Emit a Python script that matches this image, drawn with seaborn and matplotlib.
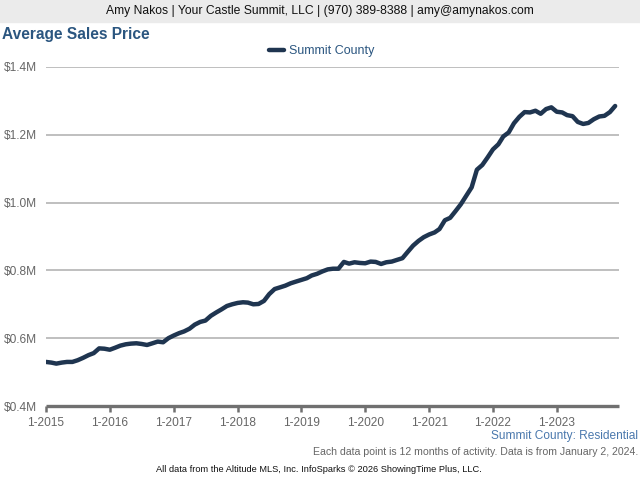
import numpy as np
import pandas as pd
import matplotlib
matplotlib.use('Agg')
import matplotlib.pyplot as plt
import seaborn as sns

# monthly rolling 12-month average sales price, Jan 2015 - Dec 2023 (in $M)
months = pd.date_range('2015-01-01', periods=108, freq='MS')
price = [
    0.530, 0.528, 0.525, 0.528, 0.530, 0.530, 0.535, 0.542, 0.550, 0.556, 0.570, 0.569,
    0.566, 0.572, 0.578, 0.582, 0.584, 0.585, 0.583, 0.580, 0.585, 0.590, 0.588, 0.600,
    0.608, 0.615, 0.620, 0.628, 0.640, 0.648, 0.652, 0.666, 0.676, 0.685, 0.695, 0.700,
    0.704, 0.706, 0.705, 0.700, 0.701, 0.710, 0.730, 0.745, 0.750, 0.755, 0.762, 0.767,
    0.772, 0.777, 0.785, 0.790, 0.797, 0.803, 0.805, 0.805, 0.825, 0.820, 0.824, 0.822,
    0.821, 0.826, 0.825, 0.819, 0.824, 0.826, 0.831, 0.836, 0.855, 0.873, 0.887, 0.898,
    0.906, 0.912, 0.922, 0.948, 0.955, 0.975, 0.995, 1.020, 1.045, 1.097, 1.111, 1.133,
    1.157, 1.172, 1.195, 1.207, 1.234, 1.253, 1.267, 1.266, 1.271, 1.262, 1.276, 1.281,
    1.268, 1.266, 1.258, 1.255, 1.238, 1.232, 1.235, 1.246, 1.254, 1.256, 1.267, 1.285,
]
yticks = [0.4, 0.6, 0.8, 1.0, 1.2, 1.4]
ytick_labels = ['$0.4M', '$0.6M', '$0.8M', '$1.0M', '$1.2M', '$1.4M']
years = list(range(2015, 2024))

df = pd.DataFrame({'Month': months, 'Summit County': price})

sns.set_style('white')
plt.rcParams['font.family'] = ['Liberation Sans', 'DejaVu Sans']

fig = plt.figure(figsize=(6.4, 4.8), dpi=100)
ax = fig.add_axes([46/640, 1-406/480, 573/640, 339/480])

sns.lineplot(data=df, x='Month', y='Summit County', ax=ax, color='#1f3550',
             linewidth=3.2, label='Summit County', legend=False, zorder=3)

ax.set_ylim(0.4, 1.4)
ax.set_xlim(pd.Timestamp('2015-01-01'), pd.Timestamp('2023-12-23'))
ax.set_yticks(yticks)
ax.set_yticklabels(ytick_labels)
ax.set_xticks([pd.Timestamp(f'{y}-01-01') for y in years])
ax.set_xticklabels([f'1-{y}' for y in years])
ax.set_xlabel('')
ax.set_ylabel('')

for y in yticks[1:]:
    ax.axhline(y, color='#b4b4b4', linewidth=1.2, zorder=1)

for s in ['top', 'right', 'left']:
    ax.spines[s].set_visible(False)
ax.spines['bottom'].set_color('#707070')
ax.spines['bottom'].set_linewidth(2.4)
ax.spines['bottom'].set_capstyle('butt')
ax.tick_params(axis='x', bottom=True, direction='out', length=4, width=1.8, color='#707070',
               labelsize=8.6, labelcolor='#666666', pad=4)
ax.tick_params(axis='y', left=False, length=0, labelsize=8.6, labelcolor='#666666', pad=6.5)

# header band
fig.patches.append(plt.Rectangle((0, 1-22/480), 1, 22/480, transform=fig.transFigure,
                                 color='#ebebeb', zorder=0))
fig.text(0.5, 1-11/480, 'Amy Nakos | Your Castle Summit, LLC | (970) 389-8388 | amy@amynakos.com',
         ha='center', va='center', fontsize=8.7, color='#111111')
fig.text(2/640, 1-35/480, 'Average Sales Price', ha='left', va='center',
         fontsize=11.2, fontweight='bold', color='#2b5680')

# legend
ax.legend(loc='lower center', bbox_to_anchor=(0.482, 0.995), frameon=False,
          fontsize=9, handlelength=1.2, handletextpad=0.4, labelcolor='#2b5680')

fig.text(638/640, 1-436/480, 'Summit County: Residential', ha='right', va='center',
         fontsize=8.6, color='#4a78ad')
fig.text(638/640, 1-452/480,
         'Each data point is 12 months of activity. Data is from January 2, 2024.',
         ha='right', va='center', fontsize=7.6, color='#666666')
fig.text(319/640, 1-469/480,
         'All data from the Altitude MLS, Inc. InfoSparks \u00a9 2026 ShowingTime Plus, LLC.',
         ha='center', va='center', fontsize=6.7, color='#111111')

fig.savefig('out.png', dpi=100)
